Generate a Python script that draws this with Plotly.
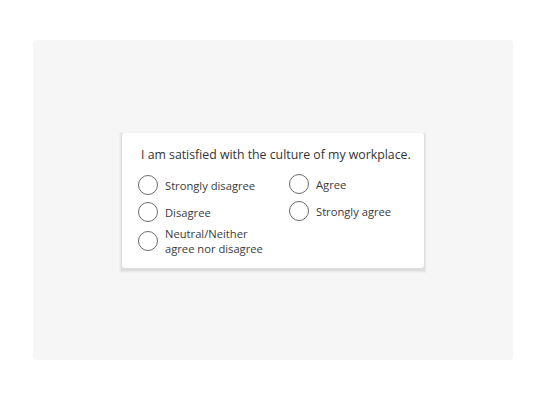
import plotly.graph_objects as go

# survey question and answer options
question = "I am satisfied with the culture of my workplace."
options = ["Strongly disagree", "Disagree", "Neutral/Neither<br>agree nor disagree",
           "Agree", "Strongly agree"]
option_col = [0, 0, 0, 1, 1]
option_row = [0, 1, 2, 0, 1]

W, H = 546, 400
OFF = 8  # page body margin
col_x = [148, 299]
row_y = [185, 212, 241]

xs = [col_x[c] for c in option_col]
ys = [row_y[r] - (1 if c == 1 else 0) for c, r in zip(option_col, option_row)]

fig = go.Figure()

shapes = [
    # grey panel
    dict(type="path", path="M37,40 L509,40 Q513,40 513,44 L513,356 Q513,360 509,360 L37,360 Q33,360 33,356 L33,44 Q33,40 37,40 Z",
         fillcolor="#f6f6f6", line=dict(width=0), layer="below"),
]
# soft card shadow
for i, a in enumerate([0.02, 0.03, 0.05]):
    d = 3 - i
    shapes.append(dict(type="rect", x0=122 - d, x1=424 + d, y0=133 - d + 2, y1=268 + d + 2,
                       fillcolor=f"rgba(0,0,0,{a})", line=dict(width=0), layer="below"))
shapes.append(dict(type="path",
                   path="M125,133 L421,133 Q424,133 424,136 L424,265 Q424,268 421,268 L125,268 Q122,268 122,265 L122,136 Q122,133 125,133 Z",
                   fillcolor="white", line=dict(width=0), layer="below"))

fig.add_trace(go.Scatter(
    x=xs, y=ys, mode="markers",
    marker=dict(size=19, color="white", line=dict(color="#6b6b6b", width=1)),
    hoverinfo="skip", showlegend=False,
))

annotations = [dict(x=139, y=154, text=question, showarrow=False, xanchor="left",
                    yanchor="middle", font=dict(family="Open Sans", size=12.3, color="#333"))]
for label, x, y in zip(options, xs, ys):
    annotations.append(dict(x=x + 15, y=y, text=label, showarrow=False, xanchor="left",
                            yanchor="middle", align="left",
                            font=dict(family="Open Sans", size=11.2, color="#3a3a3a")))

fig.update_layout(
    width=W, height=H, margin=dict(l=0, r=0, t=0, b=0),
    paper_bgcolor="white", plot_bgcolor="white",
    xaxis=dict(range=[OFF, W + OFF], visible=False, fixedrange=True),
    yaxis=dict(range=[H + OFF, OFF], visible=False, fixedrange=True),
    shapes=shapes, annotations=annotations,
)

fig.write_html("out.html")
